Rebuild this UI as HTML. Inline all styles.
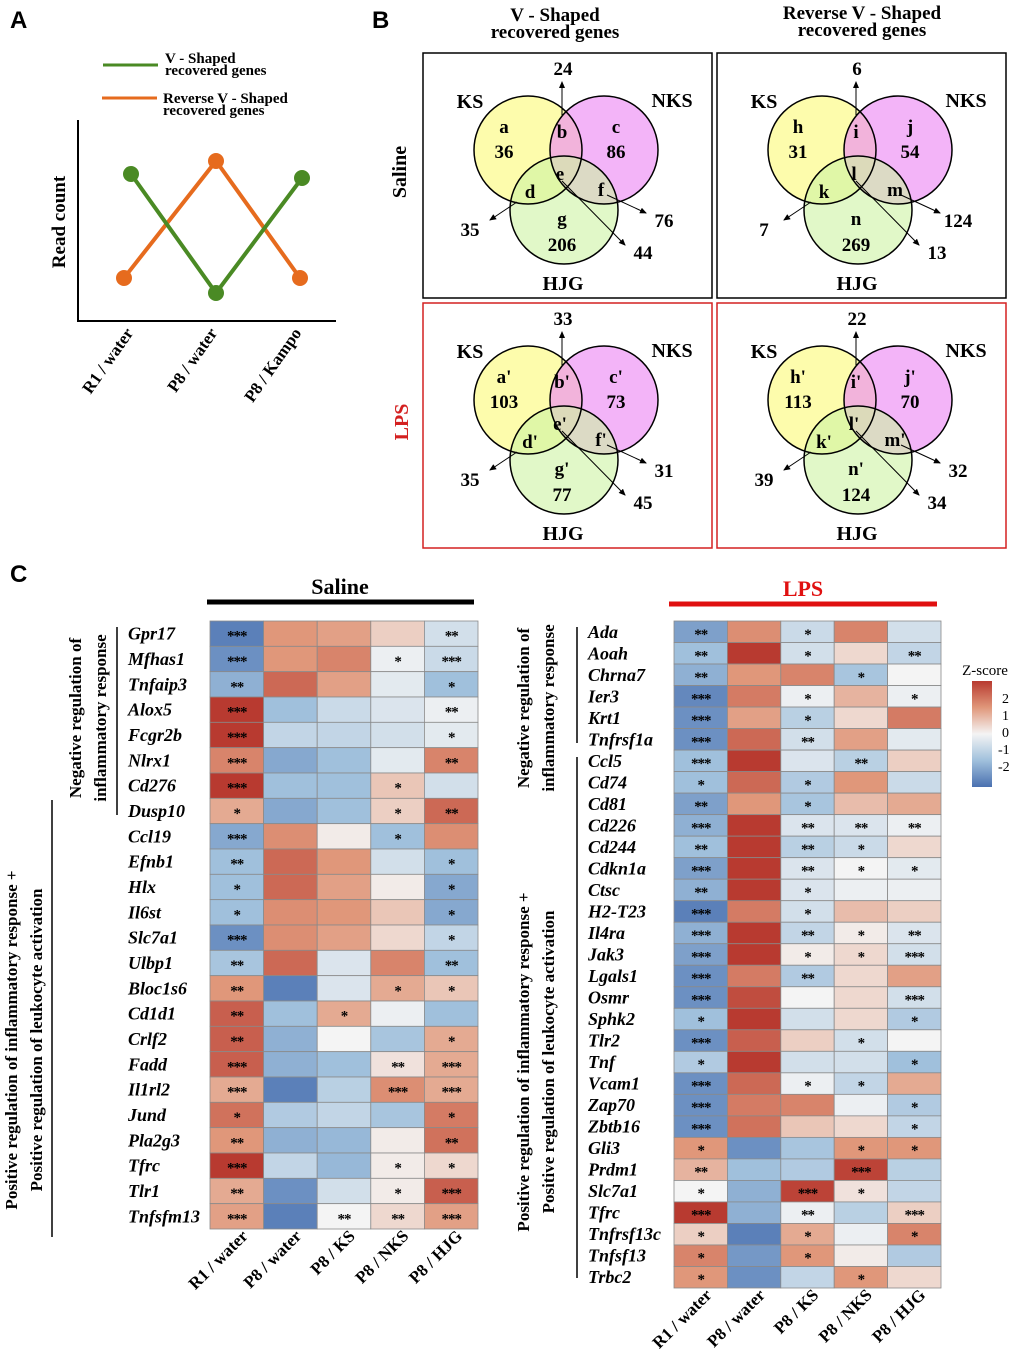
<!DOCTYPE html>
<html><head><meta charset="utf-8"><style>
body{margin:0;background:#fff;}
svg{display:block;font-family:"Liberation Serif",serif;}
.b{font-weight:bold;}
.sans{font-family:"Liberation Sans",sans-serif;font-weight:bold;}
</style></head><body>
<svg id="fig" width="1020" height="1370" viewBox="0 0 1020 1370" xmlns="http://www.w3.org/2000/svg">
<defs><marker id="ar" markerWidth="8" markerHeight="8" refX="6" refY="3" orient="auto"><path d="M0,0 L7,3 L0,6 z" fill="#000"/></marker>
<linearGradient id="zg" x1="0" y1="0" x2="0" y2="1"><stop offset="0" stop-color="#b83a30"/><stop offset="0.25" stop-color="#e0977a"/><stop offset="0.5" stop-color="#f4f4f4"/><stop offset="0.75" stop-color="#a0c0dc"/><stop offset="1" stop-color="#4a70b0"/></linearGradient></defs>
<text x="10" y="28" class="sans" font-size="24">A</text>
<text x="372" y="28" class="sans" font-size="24">B</text>
<text x="10" y="582" class="sans" font-size="24">C</text>
<g id="pa">
<line x1="103" y1="65" x2="158" y2="65" stroke="#4a8a24" stroke-width="3"/>
<text x="165" y="63" class="b" font-size="15"><tspan x="165">V - Shaped</tspan><tspan x="165" dy="12">recovered genes</tspan></text>
<line x1="102" y1="98" x2="157" y2="98" stroke="#e66b1e" stroke-width="3"/>
<text x="163" y="103" class="b" font-size="15"><tspan x="163">Reverse V - Shaped</tspan><tspan x="163" dy="12">recovered genes</tspan></text>
<path d="M78,120 V321 H336" fill="none" stroke="#000" stroke-width="2"/>
<text transform="translate(65,222) rotate(-90)" text-anchor="middle" class="b" font-size="19">Read count</text>
<polyline points="124,278 216,161 300,278" fill="none" stroke="#e66b1e" stroke-width="4"/>
<polyline points="131,174 216,293 302,178" fill="none" stroke="#4a8a24" stroke-width="4"/>
<circle cx="124" cy="278" r="8" fill="#e66b1e"/><circle cx="216" cy="161" r="8" fill="#e66b1e"/><circle cx="300" cy="278" r="8" fill="#e66b1e"/>
<circle cx="131" cy="174" r="8" fill="#4a8a24"/><circle cx="216" cy="293" r="8" fill="#4a8a24"/><circle cx="302" cy="178" r="8" fill="#4a8a24"/>
<text transform="translate(134,333) rotate(-55)" text-anchor="end" class="b" font-size="17">R1 / water</text>
<text transform="translate(218,333) rotate(-55)" text-anchor="end" class="b" font-size="17">P8 / water</text>
<text transform="translate(302,333) rotate(-55)" text-anchor="end" class="b" font-size="17">P8 / Kampo</text>
</g>
<text x="555" y="21" text-anchor="middle" class="b" font-size="19"><tspan x="555">V - Shaped</tspan><tspan x="555" dy="17">recovered genes</tspan></text>
<text x="862" y="19" text-anchor="middle" class="b" font-size="19"><tspan x="862">Reverse V - Shaped</tspan><tspan x="862" dy="17">recovered genes</tspan></text>
<text transform="translate(406,172) rotate(-90)" text-anchor="middle" class="b" font-size="20">Saline</text>
<text transform="translate(408,422) rotate(-90)" text-anchor="middle" class="b" font-size="20" fill="#d42020">LPS</text>
<g id="venns"></g>
<line x1="207" y1="602" x2="474" y2="602" stroke="#000" stroke-width="5"/>
<text x="340" y="594" text-anchor="middle" class="b" font-size="22">Saline</text>
<line x1="669" y1="604" x2="937" y2="604" stroke="#e01010" stroke-width="5"/>
<text x="803" y="596" text-anchor="middle" class="b" font-size="22" fill="#e01010">LPS</text>
<line x1="117" y1="627" x2="117" y2="815" stroke="#000" stroke-width="1.5"/>
<line x1="52" y1="800" x2="52" y2="1237" stroke="#000" stroke-width="1.5"/>
<text transform="translate(81,718) rotate(-90)" text-anchor="middle" class="b" font-size="17"><tspan x="0">Negative regulation of</tspan><tspan x="0" dy="25">inflammatory response</tspan></text>
<text transform="translate(17,1040) rotate(-90)" text-anchor="middle" class="b" font-size="17"><tspan x="0">Positive regulation of inflammatory response +</tspan><tspan x="0" dy="25">Positive regulation of leukocyte activation</tspan></text>
<line x1="577" y1="627" x2="577" y2="743" stroke="#000" stroke-width="1.5"/>
<line x1="577" y1="757" x2="577" y2="1278" stroke="#000" stroke-width="1.5"/>
<text transform="translate(529,708) rotate(-90)" text-anchor="middle" class="b" font-size="17"><tspan x="0">Negative regulation of</tspan><tspan x="0" dy="25">inflammatory response</tspan></text>
<text transform="translate(529,1062) rotate(-90)" text-anchor="middle" class="b" font-size="17"><tspan x="0">Positive regulation of inflammatory response +</tspan><tspan x="0" dy="25">Positive regulation of leukocyte activation</tspan></text>
<g id="hm"></g>
<g>
<text x="985" y="675" text-anchor="middle" font-size="15">Z-score</text>
<rect x="972" y="681" width="20" height="106" fill="url(#zg)"/>
<text x="1002" y="703" font-size="14">2</text><text x="1002" y="720" font-size="14">1</text><text x="1002" y="737" font-size="14">0</text><text x="998" y="754" font-size="14">-1</text><text x="998" y="771" font-size="14">-2</text>
</g>
</svg>
<script>
const NS="http://www.w3.org/2000/svg";
const svg=document.getElementById('fig');
function mk(t,a,p){const e=document.createElementNS(NS,t);for(const k in a)e.setAttribute(k,a[k]);(p||svg).appendChild(e);return e;}
const vennLetters=[["a","b","c","d","e","f","g"],["h","i","j","k","l","m","n"],["a'","b'","c'","d'","e'","f'","g'"],["h'","i'","j'","k'","l'","m'","n'"]];
const vennCounts=[[36,24,86,35,44,76,206],[31,6,54,7,13,124,269],[103,33,73,35,45,31,77],[113,22,70,39,34,32,124]];
const offs=[[0,0],[294,0],[0,250],[294,250]];
const vg=document.getElementById('venns');
for(let i=0;i<4;i++){
 const [dx,dy]=offs[i];const g=mk('g',{transform:`translate(${dx},${dy})`},vg);
 
 
 mk('rect',{x:423,y:53,width:289,height:245,fill:'none',stroke:i<2?'#000':'#d42020','stroke-width':1.5},g);
 mk('circle',{cx:528,cy:150,r:54,fill:'#fdfb9e','fill-opacity':0.85},g);
 mk('circle',{cx:604,cy:150,r:54,fill:'#ec8cf4','fill-opacity':0.65},g);
 mk('circle',{cx:564,cy:210,r:54,fill:'#cdf4a4','fill-opacity':0.6},g);
 for(const c of [[528,150],[604,150],[564,210]])mk('circle',{cx:c[0],cy:c[1],r:54,fill:'none',stroke:'#000','stroke-width':1.5},g);
 const L=vennLetters[i],C=vennCounts[i];
 const T=(x,y,s,fs)=>{const t=mk('text',{x:x,y:y,'text-anchor':'middle','font-size':fs||19,'font-weight':'bold'},g);t.textContent=s;return t;};
 T(470,108,'KS',20);T(672,107,'NKS',20);T(563,290,'HJG',20);
 T(504,133,L[0]);T(504,158,C[0]);
 T(562,138,L[1]);T(616,133,L[2]);T(616,158,C[2]);
 T(530,198,L[3]);T(560,180,L[4]);T(601,196,L[5]);
 T(562,225,L[6]);T(562,251,C[6]);
 mk('line',{x1:562,y1:115,x2:562,y2:82,stroke:'#000','marker-end':'url(#ar)'},g);T(563,75,C[1]);
 mk('line',{x1:517,y1:202,x2:490,y2:220,stroke:'#000','marker-end':'url(#ar)'},g);T(470,236,C[3]);
 mk('line',{x1:562,y1:181,x2:625,y2:245,stroke:'#000','marker-end':'url(#ar)'},g);T(643,259,C[4]);
 mk('line',{x1:607,y1:195,x2:646,y2:213,stroke:'#000','marker-end':'url(#ar)'},g);T(664,227,C[5]);
}
const cols=["R1 / water","P8 / water","P8 / KS","P8 / NKS","P8 / HJG"];
const salineGenes=["Gpr17","Mfhas1","Tnfaip3","Alox5","Fcgr2b","Nlrx1","Cd276","Dusp10","Ccl19","Efnb1","Hlx","Il6st","Slc7a1","Ulbp1","Bloc1s6","Cd1d1","Crlf2","Fadd","Il1rl2","Jund","Pla2g3","Tfrc","Tlr1","Tnfsfm13"];
const salineZ=[[-1.8,1,0.9,0.4,-0.4],[-1.6,1,1.2,-0.1,-0.5],[-1.2,1.5,0.9,-0.2,-1],[2,-1,-0.5,-0.3,-0.1],[2,-0.6,-0.6,-0.4,-0.2],[1.2,-1.3,-1,-0.2,1.2],[2,-1,-1,0.5,-0.4],[0.8,-1.3,-1,0.4,1.5],[-1.3,1.1,0.1,-1,1.1],[-1,1.5,1,-0.4,-1],[-1,1.5,0.9,0.1,-1.3],[-1,1.1,1,0.5,-1.3],[-1.6,1.1,0.9,0.3,-0.6],[-0.9,1.5,-0.3,1.2,-1],[1,-1.8,-0.3,0.8,0.5],[1.6,-1,0.8,-0.1,-1],[1.6,-1.2,0,-0.9,0.8],[1.6,-1.2,-1,0.2,0.8],[0.8,-1.8,-0.7,1.1,0.8],[1.4,-0.8,-0.6,-0.9,1.3],[1,-1.2,-1.1,0.1,1.4],[2,-0.6,-1.1,0.1,0.3],[0.8,-1.6,-0.4,0.1,1.6],[0.9,-1.8,0,0.3,0.9]];
const salineStars=[[3,0,0,0,2],[3,0,0,1,3],[2,0,0,0,1],[3,0,0,0,2],[3,0,0,0,1],[3,0,0,0,2],[3,0,0,1,0],[1,0,0,1,2],[3,0,0,1,0],[2,0,0,0,1],[1,0,0,0,1],[1,0,0,0,1],[3,0,0,0,1],[2,0,0,0,2],[2,0,0,1,1],[2,0,1,0,0],[2,0,0,0,1],[3,0,0,2,3],[3,0,0,3,3],[1,0,0,0,1],[2,0,0,0,2],[3,0,0,1,1],[2,0,0,1,3],[3,0,2,2,3]];
const lpsGenes=["Ada","Aoah","Chrna7","Ier3","Krt1","Tnfrsf1a","Ccl5","Cd74","Cd81","Cd226","Cd244","Cdkn1a","Ctsc","H2-T23","Il4ra","Jak3","Lgals1","Osmr","Sphk2","Tlr2","Tnf","Vcam1","Zap70","Zbtb16","Gli3","Prdm1","Slc7a1","Tfrc","Tnfrsf13c","Tnfsf13","Trbc2"];
const lpsZ=[[-1.4,1.1,-0.5,1.2,-0.4],[-1,2,-0.4,0.3,-0.6],[-1.2,1,1.2,-0.9,0],[-1.7,1.3,-0.1,0.7,-0.1],[-1.6,0.9,-0.7,0.3,1.3],[-1.6,1.5,-0.4,0.9,-0.2],[-1,2,-0.3,-0.7,0.4],[-1,1.5,-0.8,1,-0.5],[-1.4,1,-0.9,0.6,0.8],[-1.2,2,-0.3,-0.3,-0.1],[-1,2,-0.7,-0.5,0.3],[-1.4,2,-0.3,0,-0.2],[-1.2,2,-0.3,-0.1,-0.1],[-1.8,1.3,-0.4,0.6,0.4],[-1.2,2,-0.6,0.1,-0.3],[-1.4,2,0.1,0.3,-0.4],[-1.6,1.3,-0.8,0.3,0.9],[-1.6,1.8,0,0.3,-0.4],[-1,2,-0.4,0.3,-0.8],[-1.6,1.6,0.4,-0.4,0],[-0.8,2,-0.4,-0.4,-1],[-1.6,1.5,-0.1,-0.6,0.8],[-1.6,1.3,1.2,-0.1,-0.8],[-1.6,1.4,0.5,0.3,-0.6],[1,-1.6,-0.9,1,1],[0.7,-1,-0.8,1.9,-0.7],[0,-1.2,1.9,0.2,-0.6],[2,-1.2,-0.1,-0.7,0.4],[0.4,-1.8,0.8,-0.1,1.2],[1.2,-1.5,1,0.1,-0.8],[1,-1.6,-0.6,1,0.3]];
const lpsStars=[[2,0,1,0,0],[2,0,1,0,2],[2,0,0,1,0],[3,0,1,0,1],[3,0,1,0,0],[3,0,2,0,0],[3,0,0,2,0],[1,0,1,0,0],[2,0,1,0,0],[3,0,2,2,2],[2,0,2,1,0],[3,0,2,1,1],[2,0,1,0,0],[3,0,1,0,0],[3,0,2,1,2],[3,0,1,1,3],[3,0,2,0,0],[3,0,0,0,3],[1,0,0,0,1],[3,0,0,1,0],[1,0,0,0,1],[3,0,1,1,0],[3,0,0,0,1],[3,0,0,0,1],[1,0,0,1,1],[2,0,0,3,0],[1,0,3,1,0],[3,0,2,0,3],[1,0,1,0,1],[1,0,1,0,0],[1,0,0,1,0]];
const stops=[[-2,[74,112,176]],[-1,[160,192,220]],[0,[244,244,244]],[1,[224,151,122]],[2,[184,58,48]]];
function zcol(z){z=Math.max(-2,Math.min(2,z));for(let i=0;i<4;i++){const[a,ca]=stops[i],[b,cb]=stops[i+1];if(z<=b){const t=(z-a)/(b-a);return`rgb(${ca.map((v,k)=>Math.round(v+(cb[k]-v)*t)).join(',')})`;}}}
const hm=document.getElementById('hm');
function heat(genes,Z,S,x0,y0,w,h,labelX,name){
 const g=mk('g',{},hm);
 
 
 const cw=w/cols.length,rh=h/genes.length;
 const xs=j=>x0+j*cw, ys=i=>y0+i*rh;
 genes.forEach((gn,i)=>{
  const t=mk('text',{x:labelX,y:ys(i)+rh/2+6,'font-size':18,'font-weight':'bold','font-style':'italic'},g);t.textContent=gn;
  
  
  Z[i].forEach((z,j)=>{
   const r=mk('rect',{x:xs(j),y:ys(i),width:cw,height:rh,fill:zcol(z),stroke:'#8a8a8a','stroke-width':0.8},g);
   
   
   if(S[i][j]){const s=mk('text',{x:xs(j)+cw/2,y:ys(i)+rh/2+7,'text-anchor':'middle','font-size':15,'font-weight':'bold','letter-spacing':'-1'},g);s.textContent='*'.repeat(S[i][j]);}
  });
 });
 cols.forEach((c,j)=>{const t=mk('text',{transform:`translate(${xs(j)+cw/2+12},${y0+h+8}) rotate(-45)`,'text-anchor':'end','font-size':17,'font-weight':'bold'},g);t.textContent=c;
  
  });
}
heat(salineGenes,salineZ,salineStars,210,621,268,608,128,'saline-heatmap');
heat(lpsGenes,lpsZ,lpsStars,674,621,267,667,588,'lps-heatmap');
</script>
</body></html>
